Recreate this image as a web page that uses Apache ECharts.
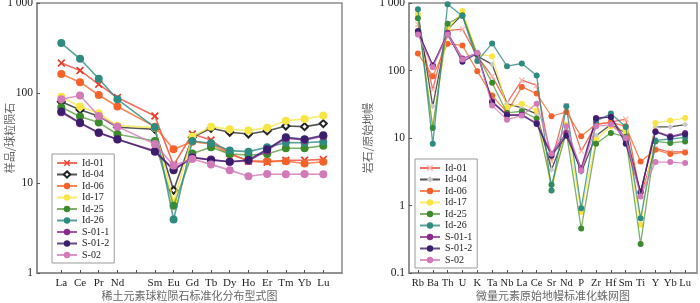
<!DOCTYPE html>
<html><head><meta charset="utf-8">
<script src="https://cdn.jsdelivr.net/npm/echarts@6/dist/echarts.min.js"></script>
<style>html,body{margin:0;padding:0;background:#fff}#a,#b{position:absolute;top:0;width:350px;height:303px}#a{left:0}#b{left:350px}</style>
</head><body><div id="a"></div><div id="b"></div>
<script>
// ---- Data ----
var sampleNames = ['Id-01','Id-04','Id-06','Id-17','Id-25','Id-26','S-01-1','S-01-2','S-02'];
var reeLabels = ['La','Ce','Pr','Nd','','Sm','Eu','Gd','Tb','Dy','Ho','Er','Tm','Yb','Lu'];
var reeId01 = [215,178,125,89,null,55.6,15.8,35,30,21.3,17.5,17,17.9,17.9,18.3];
var reeId04 = [80,65,55,41.6,null,39.5,8.3,32.2,40.5,36.6,35,37.9,43,42.3,45.7];
var reeId06 = [163,132,95,70.7,null,42.3,23.7,28.8,27.1,21,17.7,17.5,17.5,16.5,17.2];
var reeId17 = [91,70.7,59.6,43.4,null,41.2,6.2,32.7,42.3,39.5,38.2,41.2,49.3,51.5,56.1];
var reeId25 = [69.5,54.7,46.9,34.8,null,29.3,5.6,21.3,24.9,21,20.5,21,24.3,24.3,26];
var reeId26 = [359,240,144,85,null,41.6,3.93,29.3,27.6,22.9,22.3,24.9,28.1,28,28.8];
var reeS011 = [61,46,36,30.5,null,22.8,14.2,19.3,18.2,17.2,17.6,23,31.5,30,33];
var reeS012 = [62.2,46.9,36.3,30.6,null,22.3,13.9,19.1,18,17.2,18,23.7,32.2,30.6,33.9];
var reeS02 = [85.3,93.7,55.6,42.3,null,27.1,15.6,18.5,16.1,13.9,11.9,12.6,12.5,12.6,12.5];

var traceLabels = ['Rb','Ba','Th','U','K','Ta','Nb','La','Ce','Sr','Nd','P','Zr','Hf','Sm','Ti','Y','Yb','Lu'];
var trId01 = [482,52,390,410,163,82,33,72,60,4.5,30,6.4,15.8,17.2,19,1.4,7,6.2,6.3];
var trId04 = [700,29.5,406,679,163,123,32.3,27.9,22.7,3.39,12.6,3.1,10.8,15.8,11.9,1.5,14.6,14.6,15.8];
var trId06 = [179,82,249,235,97.8,42.5,24,57.2,45.5,21,24.3,10.6,16.1,17.1,14.9,4.5,6.7,5.79,6.12];
var trId17 = [679,15,406,760,173,163,28.5,32.3,25.5,1.67,15.8,0.8,9.45,14.9,12.6,0.52,16.7,18.1,19.8];
var trId25 = [592,14.1,493,656,170,65.6,23.5,24.9,19.4,2.03,12.1,0.455,8.24,11.9,10.4,0.27,8.9,8.43,8.9];
var trId26 = [805,8.24,955,641,138,252,116,127,84,1.67,29.5,0.91,17.7,23,14.6,0.65,9.2,9.67,10.2];
var trS011 = [362,120,362,151,179,35,22.2,22.2,16.7,5.85,11.9,3.59,19.8,20.5,9.45,1.61,12.6,10.6,11.9];
var trS012 = [384,118,342,135,179,33.9,21.7,21.7,16.1,5.46,10.8,3.3,19.4,20.5,8.24,1.56,12.3,10.3,11.4];
var trS02 = [342,112,342,146,183,30.2,18.7,21.5,32.3,5.85,14.9,3.3,14.9,15.8,10,1.36,4.4,4.4,4.25];

var reeSets = [reeId01,reeId04,reeId06,reeId17,reeId25,reeId26,reeS011,reeS012,reeS02];
var trSets = [trId01,trId04,trId06,trId17,trId25,trId26,trS011,trS012,trS02];

// ---- Styles ----
var lineColors = ['#ee4a38','#2a2a2a','#f5692d','#f6e64c','#5f9e45','#2f8b80','#912d91','#3b1f6d','#d47ab9'];
var markColors = ['#ea3a2a','#222222','#f4622a','#f7e645','#3b8a2c','#2f8b80','#8b2a8b','#3b1f6d','#d27ab8'];
var XPATH = 'path://M0,1.5L1.5,0L5,3.5L8.5,0L10,1.5L6.5,5L10,8.5L8.5,10L5,6.5L1.5,10L0,8.5L3.5,5Z';
var SERIF = '"Liberation Serif","Times New Roman",serif';
var CJK = '"Noto Sans CJK SC","Liberation Serif",sans-serif';

function idxArr(n){var a=[];for(var i=0;i<n;i++)a.push(i);return a;}

function buildSeries(sets, left){
  return sampleNames.map(function(nm,i){
    var sym='circle', size=left?8:6, ic={color:markColors[i]};
    if(i===0){ if(left){sym=XPATH;size=8;} else {sym=XPATH;size=6;ic={color:'#f6b7ad'};} }
    if(i===1){ if(left){sym='emptyDiamond';size=7;ic={color:'#222',borderWidth:1.5};} else {sym='diamond';size=6;ic={color:'#c8c8c8'};} }
    return {
      name:nm, type:'line', connectNulls:true, symbol:sym, symbolSize:size,
      data: sets[i].map(function(v,k){return [k,v];}).filter(function(p){return p[1]!==null;}),
      lineStyle:{color:lineColors[i], width:left?1.6:1.3, opacity:0.8},
      itemStyle:ic, z: 2+i, animation:false
    };
  });
}

function makeOption(cfg){
  return {
    animation:false,
    grid:{left:cfg.gl, right:cfg.gr, top:3, bottom:30, containLabel:false, outerBoundsMode:'none',
      show:true, borderColor:'#8c8c8c', borderWidth:1.5},
    legend:{
      orient:'vertical', left:cfg.lx, top:cfg.ly, data:sampleNames,
      itemWidth:20, itemHeight:8, itemGap:1.5, padding:[4,5,3,4],
      borderColor:'#9a9a9a', borderWidth:1, backgroundColor:'#fff',
      textStyle:{fontFamily:SERIF, fontSize:10, lineHeight:10, color:'#222'}
    },
    xAxis:{
      type:'value', min:cfg.xmin, max:cfg.xmax,
      name:cfg.xname, nameLocation:'middle', nameGap:17, nameMoveOverlap:false,
      nameTextStyle:{fontFamily:CJK, fontSize:11, color:'#666'},
      splitLine:{show:false},
      axisLine:{onZero:false, lineStyle:{color:'#8c8c8c', width:1.5}},
      axisTick:{customValues:idxArr(cfg.labels.length), inside:true, length:3, lineStyle:{color:'#555'}},
      axisLabel:{customValues:idxArr(cfg.labels.length), margin:5, fontFamily:SERIF, fontSize:cfg.xfs, color:'#222',
        formatter:function(v){return cfg.labels[Math.round(v)]||'';}}
    },
    yAxis:{
      type:'log', logBase:10, min:cfg.ymin, max:1000,
      name:cfg.yname, nameLocation:'middle', nameRotate:90, nameGap:cfg.ngap, nameMoveOverlap:false,
      nameTextStyle:{fontFamily:CJK, fontSize:11, color:'#666'},
      splitLine:{show:false}, minorTick:{show:false},
      axisLine:{show:true, onZero:false, lineStyle:{color:'#8c8c8c', width:1.5}},
      axisTick:{show:true, inside:true, length:3, lineStyle:{color:'#555'}},
      axisLabel:{margin:4, fontFamily:SERIF, fontSize:11.5, color:'#222',
        formatter:function(v){return v>=1000?'1 000':String(v);}}
    },
    series: buildSeries(cfg.sets, cfg.left)
  };
}

var c1 = echarts.init(document.getElementById('a'), null, {renderer:'canvas'});
c1.setOption(makeOption({gl:37, gr:8, lx:52, ly:154, xmin:-1.3, xmax:15, labels:reeLabels, xfs:11,
  xname:'稀土元素球粒陨石标准化分布型式图', yname:'样品/球粒陨石', ymin:1, ngap:22, sets:reeSets, left:true}));
var c2 = echarts.init(document.getElementById('b'), null, {renderer:'canvas'});
c2.setOption(makeOption({gl:59, gr:3, lx:65, ly:159, xmin:-0.6, xmax:18.8, labels:traceLabels, xfs:10.5,
  xname:'微量元素原始地幔标准化蛛网图', yname:'岩石/原始地幔', ymin:0.1, ngap:36, sets:trSets, left:false}));
</script></body></html>
